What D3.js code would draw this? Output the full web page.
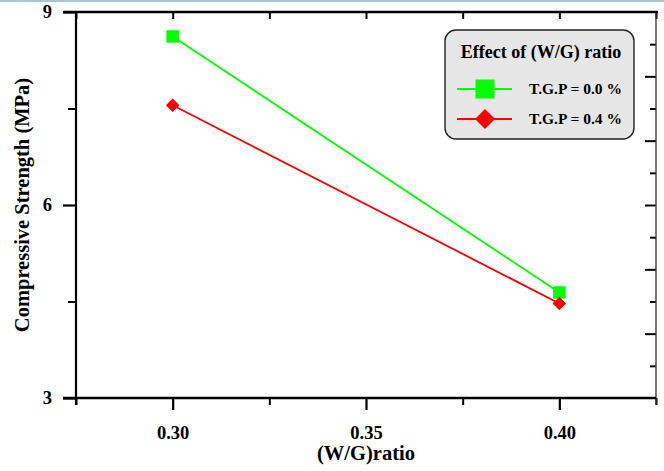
<!DOCTYPE html>
<html>
<head>
<meta charset="utf-8">
<script src="https://cdn.jsdelivr.net/npm/d3@7"></script>
<style>
  html, body { margin: 0; padding: 0; background: #fff; }
  svg { display: block; }
  text { font-family: "Liberation Serif", "Times New Roman", serif; font-weight: bold; fill: #000; }
</style>
</head>
<body>
<svg id="chart" width="664" height="471"></svg>
<script>
// W/G ratios tested and compressive strengths (MPa) for each T.G.P dosage
const wgRatios = [0.30, 0.40];
const strengthTGP00 = [8.62, 4.64];
const strengthTGP04 = [7.55, 4.47];
const seriesNames = ["T.G.P = 0.0 %", "T.G.P = 0.4 %"];
const xTickValues = [0.30, 0.35, 0.40];
const xTickLabels = ["0.30", "0.35", "0.40"];
const yTickValues = [3, 6, 9];
const yTickLabels = ["3", "6", "9"];

const svg = d3.select("#chart");
const W = 664, H = 471;
const plotL = 76, plotR = 656, plotT = 12, plotB = 398;

const x = d3.scaleLinear().domain([0.275, 0.425]).range([plotL, plotR]);
const y = d3.scaleLinear().domain([3, 9]).range([plotB, plotT]);

// thin band across the top edge
svg.append("rect").attr("x", 0).attr("y", 0).attr("width", W).attr("height", 2).attr("fill", "#a5c7d6");

const series = [
  { name: seriesNames[0], values: strengthTGP00, color: "#00ff00", shape: "square" },
  { name: seriesNames[1], values: strengthTGP04, color: "#ff0000", shape: "diamond" }
];

// ---- axes ----
// bottom: major ticks outward, minor ticks in between and at the ends
const xMinor = [0.275, 0.325, 0.375, 0.425];
svg.append("g").attr("transform", `translate(0,${plotB})`)
  .call(d3.axisBottom(x).tickValues(xMinor).tickSize(7).tickFormat(""))
  .call(g => g.select(".domain").remove())
  .call(g => g.selectAll("line").attr("stroke", "#000").attr("stroke-width", 2));
svg.append("g").attr("transform", `translate(0,${plotB})`)
  .call(d3.axisBottom(x).tickValues(xTickValues).tickSize(12).tickPadding(16)
    .tickFormat((d, i) => xTickLabels[i]))
  .call(g => g.select(".domain").remove())
  .call(g => g.selectAll("line").attr("stroke", "#000").attr("stroke-width", 2.2))
  .call(g => g.selectAll("text").attr("font-size", 18.5).attr("font-family", null));

// left: major ticks outward with labels, minor halfway
svg.append("g").attr("transform", `translate(${plotL},0)`)
  .call(d3.axisLeft(y).tickValues([4.5, 7.5]).tickSize(8).tickFormat(""))
  .call(g => g.select(".domain").remove())
  .call(g => g.selectAll("line").attr("stroke", "#000").attr("stroke-width", 2));
svg.append("g").attr("transform", `translate(${plotL},0)`)
  .call(d3.axisLeft(y).tickValues(yTickValues).tickSize(13).tickPadding(11)
    .tickFormat((d, i) => yTickLabels[i]))
  .call(g => g.select(".domain").remove())
  .call(g => g.selectAll("line").attr("stroke", "#000").attr("stroke-width", 2.2))
  .call(g => g.selectAll("text").attr("font-size", 18.5).attr("font-family", null));

// top: short inward ticks every 0.025
svg.append("g").attr("transform", `translate(0,${plotT})`)
  .call(d3.axisBottom(x).tickValues(d3.range(0.275, 0.4251, 0.025)).tickSize(7).tickFormat(""))
  .call(g => g.select(".domain").remove())
  .call(g => g.selectAll("line").attr("stroke", "#000").attr("stroke-width", 2));

// right: inward ticks, long every 1 MPa, short on the half steps
svg.append("g").attr("transform", `translate(${plotR},0)`)
  .call(d3.axisLeft(y).tickValues([4, 5, 6, 7, 8]).tickSize(11).tickFormat(""))
  .call(g => g.select(".domain").remove())
  .call(g => g.selectAll("line").attr("stroke", "#000").attr("stroke-width", 2));
svg.append("g").attr("transform", `translate(${plotR},0)`)
  .call(d3.axisLeft(y).tickValues([3.5, 4.5, 5.5, 6.5, 7.5, 8.5]).tickSize(6).tickFormat(""))
  .call(g => g.select(".domain").remove())
  .call(g => g.selectAll("line").attr("stroke", "#000").attr("stroke-width", 2));

// frame lines
svg.append("line").attr("x1", plotR).attr("x2", plotR).attr("y1", plotT - 1).attr("y2", plotB + 7)
  .attr("stroke", "#333").attr("stroke-width", 1.3);
svg.append("line").attr("x1", plotL).attr("x2", plotL).attr("y1", plotT - 1).attr("y2", plotB + 7)
  .attr("stroke", "#000").attr("stroke-width", 2.2);
svg.append("line").attr("x1", plotL - 13).attr("x2", plotR + 2).attr("y1", plotT).attr("y2", plotT)
  .attr("stroke", "#000").attr("stroke-width", 2.6);
svg.append("line").attr("x1", plotL - 13).attr("x2", plotR).attr("y1", plotB).attr("y2", plotB)
  .attr("stroke", "#000").attr("stroke-width", 2.6);

// ---- data ----
const line = d3.line().x((d, i) => x(wgRatios[i])).y(d => y(d));
const symSquare = d3.symbol().type(d3.symbolSquare);
const diamondPath = s => `M0,${-s}L${s},0L0,${s}L${-s},0Z`;

series.forEach(s => {
  svg.append("path").datum(s.values).attr("d", line)
    .attr("fill", "none").attr("stroke", s.color).attr("stroke-width", 1.8);
});
series.forEach(s => {
  const g = svg.append("g");
  s.values.forEach((v, i) => {
    const p = g.append("path")
      .attr("transform", `translate(${x(wgRatios[i])},${y(v)})`)
      .attr("fill", s.color);
    if (s.shape === "square") p.attr("d", symSquare.size(12.5 * 12.5)());
    else p.attr("d", diamondPath(6.8));
  });
});

// ---- axis titles ----
svg.append("text").attr("x", x(0.35)).attr("y", 460).attr("text-anchor", "middle")
  .attr("font-size", 20.5).text("(W/G)ratio");
svg.append("text").attr("transform", `translate(29,${(plotT + plotB) / 2}) rotate(-90)`)
  .attr("text-anchor", "middle").attr("font-size", 20.5).text("Compressive Strength (MPa)");

// ---- legend ----
const lg = svg.append("g");
lg.append("rect").attr("x", 445).attr("y", 30).attr("width", 189).attr("height", 109)
  .attr("rx", 11).attr("ry", 11).attr("fill", "#e6e6e6").attr("stroke", "#222").attr("stroke-width", 1.4);
lg.append("text").attr("x", 541).attr("y", 58).attr("text-anchor", "middle")
  .attr("font-size", 18).text("Effect of (W/G) ratio");
series.forEach((s, i) => {
  const cy = 89 + i * 30;
  lg.append("line").attr("x1", 457).attr("x2", 512).attr("y1", cy).attr("y2", cy)
    .attr("stroke", s.color).attr("stroke-width", 1.8);
  const p = lg.append("path").attr("transform", `translate(485,${cy})`).attr("fill", s.color);
  if (s.shape === "square") p.attr("d", symSquare.size(19 * 19)());
  else p.attr("d", diamondPath(10));
  lg.append("text").attr("x", 529).attr("y", cy + 5).attr("font-size", 15.5).text(s.name);
});
</script>
</body>
</html>
